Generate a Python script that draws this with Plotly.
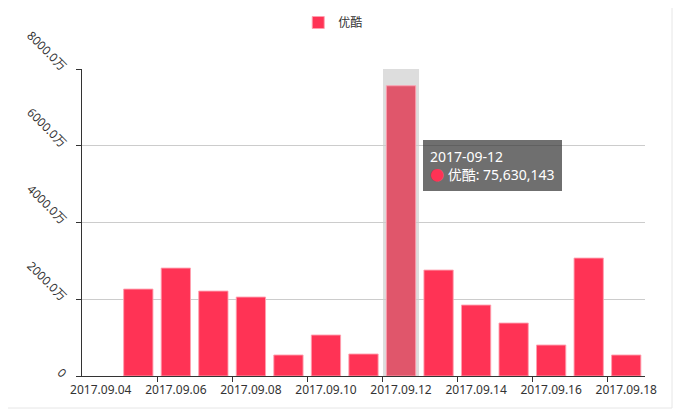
import plotly.graph_objects as go

categories = ["2017.09.04", "2017.09.05", "2017.09.06", "2017.09.07", "2017.09.08",
              "2017.09.09", "2017.09.10", "2017.09.11", "2017.09.12", "2017.09.13",
              "2017.09.14", "2017.09.15", "2017.09.16", "2017.09.17", "2017.09.18"]
youku = [None, 22650000, 28120000, 22130000, 20570000, 5470000, 10680000, 5730000,
         75630143, 27600000, 18490000, 13800000, 8070000, 30730000, 5470000]
y_ticks = [0, 20000000, 40000000, 60000000, 80000000]
y_tick_text = ["0", "2000.0万", "4000.0万", "6000.0万", "8000.0万"]
x_label_every = 2
hover_index = 8

FONT = "Noto Sans, Noto Sans CJK SC, sans-serif"
RED = "#ff3355"
HL = "#e0566b"

colors = [HL if i == hover_index else RED for i in range(len(categories))]

fig = go.Figure()
fig.add_trace(go.Bar(
    x=categories, y=youku, name="优酷",
    marker=dict(color=colors, line=dict(color="rgba(255,160,175,0.9)", width=1)),
    width=0.78,
))
# invisible trace on a numeric overlay axis for the boundary tick marks
fig.add_trace(go.Scatter(x=[-0.5, 14.5], y=[0, 0], xaxis="x2", mode="markers",
                         marker=dict(opacity=0), showlegend=False, hoverinfo="skip"))

# the page body adds an 8px offset, so the figure is laid out 8px up/left
fig.update_layout(
    width=692, height=410,
    margin=dict(l=74, r=55, t=61, b=42, autoexpand=False),
    paper_bgcolor="white", plot_bgcolor="white",
    font=dict(family=FONT, size=12, color="#333"),
    showlegend=True,
    legend=dict(orientation="h", x=0.47, xref="container", xanchor="center",
                y=1.0, yref="container", yanchor="top",
                font=dict(size=12, color="#333"), itemwidth=30),
    xaxis=dict(
        type="category", range=[-0.5, 14.5], automargin=False,
        tickvals=categories[::x_label_every], ticktext=categories[::x_label_every],
        showline=True, linecolor="#333", linewidth=1,
        ticks="", showgrid=False, zeroline=False, ticklabelstandoff=3,
        tickfont=dict(size=12, color="#333"),
    ),
    xaxis2=dict(
        overlaying="x", anchor="y", side="bottom", range=[-0.5, 14.5], automargin=False,
        tickvals=[i + 0.5 for i in range(1, 14, 2)], ticktext=[""] * 7,
        ticks="outside", ticklen=5, tickcolor="#333", showline=False,
        showgrid=False, zeroline=False,
    ),
    yaxis=dict(
        range=[0, 80000000], tickvals=y_ticks, ticktext=y_tick_text, automargin=False,
        tickangle=45, showline=True, linecolor="#333", linewidth=1,
        ticks="outside", ticklen=5, tickcolor="#333", ticklabelstandoff=8,
        showgrid=True, gridcolor="#ccc", zeroline=False,
        tickfont=dict(size=12, color="#333"),
    ),
    hovermode=False,
)

# hover shadow
fig.add_shape(type="rect", xref="x", yref="y domain",
              x0=hover_index - 0.48, x1=hover_index + 0.48, y0=0, y1=1,
              fillcolor="#dddddd", line=dict(width=0), layer="below")

# tooltip
fig.add_annotation(
    xref="x", yref="paper", x=categories[hover_index], y=(376 - 140) / 307,
    xanchor="left", yanchor="top", xshift=22, showarrow=False, align="left",
    text="2017-09-12<br><span style='color:%s'>●</span> 优酷: 75,630,143" % RED,
    font=dict(family=FONT, size=14, color="white"),
    bgcolor="rgba(50,50,50,0.7)", borderpad=7, borderwidth=0,
)

# container border
fig.add_shape(type="line", xref="paper", yref="paper",
              x0=(672 - 82) / 563, x1=(672 - 82) / 563, y0=(376 - 408) / 307, y1=376 / 307,
              line=dict(color="#e6e6e6", width=1))
fig.add_shape(type="line", xref="paper", yref="paper",
              x0=-82 / 563, x1=(672 - 82) / 563, y0=(376 - 408) / 307, y1=(376 - 408) / 307,
              line=dict(color="#e6e6e6", width=1))

fig.write_html("out.html")
